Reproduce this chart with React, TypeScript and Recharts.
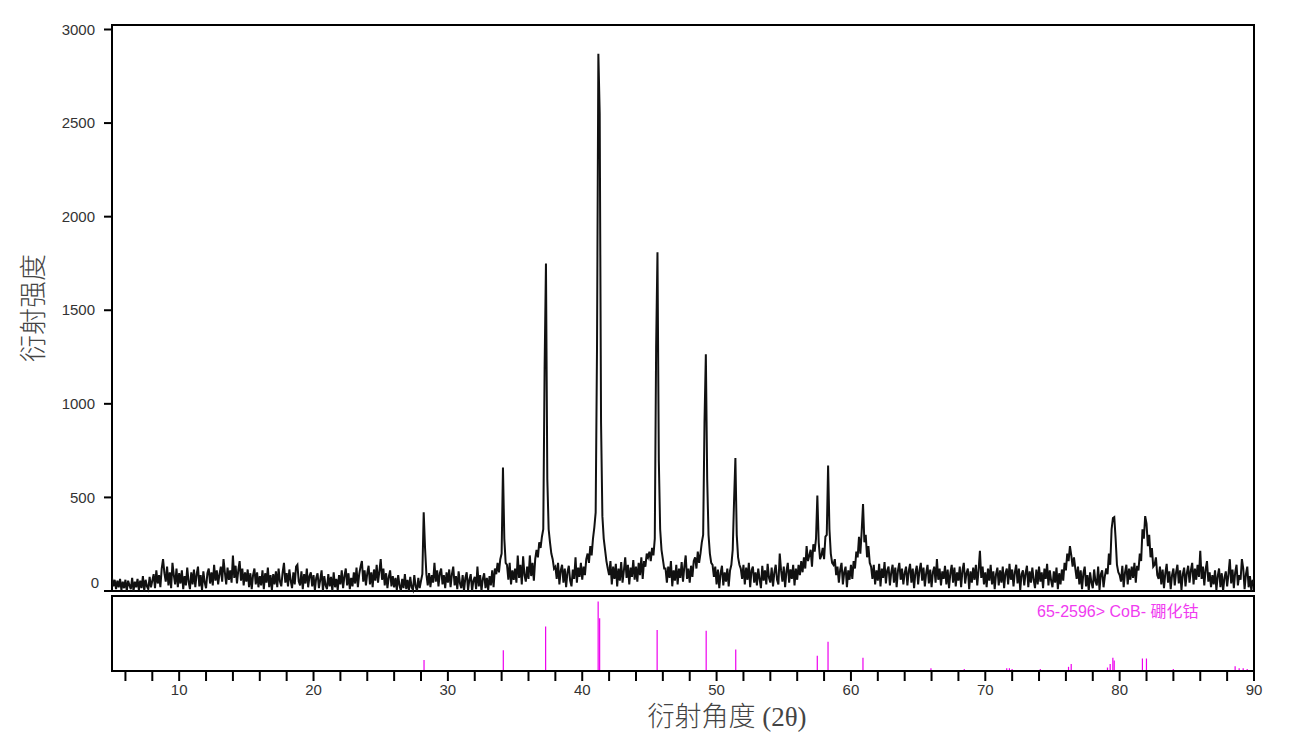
import React from 'react';
import { LineChart, Line, BarChart, Bar, XAxis, YAxis, Legend, Label, ReferenceArea } from 'recharts';

// measured pattern, counts per 0.1° step; each row is one degree (n.0 … n.9)
const scan5to14 = [
  [70, 25, 60, 10, 55, 20, 65, 5, 50, 15],
  [60, 0, 55, 30, 10, 70, 0, 50, 20, 65],
  [5, 55, 15, 80, 0, 60, 25, 10, 75, 20],
  [55, 90, 15, 110, 40, 85, 20, 120, 170, 95],
  [50, 130, 30, 100, 15, 150, 85, 35, 120, 20],
  [95, 40, 110, 10, 80, 30, 125, 50, 10, 100],
  [35, 115, 20, 90, 130, 25, 85, 5, 105, 45],
  [15, 95, 120, 40, 100, 30, 140, 55, 110, 35],
  [90, 130, 50, 170, 100, 35, 125, 60, 110, 45],
  [190, 70, 135, 40, 110, 160, 55, 120, 30, 100],
];
const scan15to24 = [
  [50, 115, 20, 95, 10, 85, 120, 35, 100, 20],
  [80, 30, 110, 10, 95, 45, 125, 20, 85, 5],
  [90, 35, 105, 20, 120, 50, 25, 100, 150, 45],
  [95, 25, 115, 55, 15, 100, 35, 130, 140, 50],
  [30, 105, 10, 90, 40, 120, 20, 80, 100, 25],
  [85, 5, 70, 95, 15, 60, 110, 0, 80, 30],
  [10, 90, 25, 75, 0, 100, 20, 65, 5, 85],
  [35, 110, 15, 80, 120, 30, 95, 10, 70, 25],
  [100, 40, 125, 20, 90, 130, 160, 50, 110, 30],
  [95, 135, 35, 100, 20, 115, 55, 140, 45, 105],
];
const scan25to34 = [
  [170, 60, 120, 30, 95, 15, 75, 110, 25, 80],
  [20, 70, 5, 85, 30, 0, 65, 15, 90, 10],
  [60, 0, 75, 20, 5, 85, 25, 0, 70, 15],
  [55, 90, 420, 230, 90, 30, 95, 20, 85, 45],
  [150, 50, 110, 25, 95, 120, 35, 85, 15, 100],
  [45, 115, 20, 90, 130, 30, 80, 10, 105, 40],
  [15, 85, 0, 70, 100, 5, 60, 90, 0, 55],
  [75, 10, 130, 25, 85, 0, 65, 95, 15, 70],
  [5, 80, 30, 110, 20, 120, 90, 150, 100, 170],
  [200, 660, 280, 150, 140, 60, 150, 35, 110, 60],
];
const scan35to44 = [
  [120, 45, 190, 70, 140, 35, 185, 85, 50, 130],
  [65, 190, 80, 150, 55, 170, 220, 180, 260, 230],
  [290, 330, 1200, 1750, 600, 330, 260, 200, 170, 120],
  [130, 65, 150, 35, 110, 140, 45, 120, 20, 100],
  [135, 55, 25, 115, 65, 180, 45, 125, 75, 150],
  [60, 130, 85, 170, 200, 150, 240, 190, 280, 340],
  [420, 1300, 2870, 2550, 900, 400, 280, 220, 160, 120],
  [85, 160, 35, 130, 65, 145, 25, 120, 55, 155],
  [45, 110, 180, 70, 140, 35, 125, 75, 165, 60],
  [130, 50, 150, 85, 180, 65, 160, 130, 200, 180],
];
const scan45to54 = [
  [210, 160, 230, 190, 280, 1300, 1810, 700, 330, 220],
  [170, 120, 120, 45, 130, 70, 160, 25, 110, 55],
  [140, 35, 120, 70, 155, 50, 130, 190, 65, 120],
  [45, 135, 75, 160, 180, 120, 210, 150, 200, 260],
  [300, 900, 1265, 600, 300, 200, 150, 140, 75, 130],
  [35, 115, 15, 95, 135, 30, 100, 50, 120, 25],
  [110, 140, 220, 480, 710, 300, 180, 140, 120, 65],
  [140, 35, 125, 60, 150, 20, 110, 130, 45, 100],
  [30, 120, 65, 15, 135, 55, 110, 35, 145, 70],
  [45, 125, 25, 100, 140, 60, 35, 200, 110, 50],
];
const scan55to64 = [
  [130, 20, 105, 150, 45, 115, 65, 140, 30, 120],
  [60, 140, 85, 160, 100, 180, 120, 240, 160, 190],
  [220, 130, 250, 210, 280, 510, 260, 170, 190, 230],
  [170, 290, 300, 670, 330, 200, 150, 140, 170, 85],
  [130, 45, 115, 150, 35, 100, 130, 20, 110, 60],
  [140, 65, 160, 120, 210, 180, 290, 200, 320, 465],
  [260, 300, 180, 240, 150, 130, 65, 140, 35, 110],
  [55, 145, 25, 120, 70, 155, 40, 110, 130, 30],
  [100, 140, 45, 125, 20, 110, 150, 60, 120, 35],
  [95, 130, 30, 105, 145, 45, 120, 15, 100, 135],
];
const scan65to74 = [
  [35, 110, 150, 55, 125, 25, 95, 140, 40, 115],
  [20, 100, 130, 45, 170, 60, 120, 30, 105, 65],
  [135, 35, 115, 15, 95, 140, 45, 125, 25, 100],
  [55, 130, 20, 110, 150, 40, 95, 120, 10, 105],
  [45, 125, 60, 140, 30, 110, 215, 70, 130, 35],
  [100, 20, 120, 55, 140, 35, 105, 10, 90, 125],
  [30, 110, 45, 130, 15, 95, 120, 35, 145, 60],
  [115, 25, 100, 140, 40, 120, 5, 90, 110, 30],
  [95, 135, 20, 105, 45, 125, 60, 15, 115, 35],
  [130, 50, 100, 15, 120, 65, 145, 30, 110, 55],
];
const scan75to84 = [
  [20, 105, 45, 125, 10, 95, 35, 115, 55, 150],
  [110, 200, 160, 240, 190, 130, 180, 120, 65, 130],
  [35, 110, 10, 95, 130, 25, 85, 0, 100, 45],
  [15, 115, 50, 30, 130, 5, 90, 110, 20, 80],
  [120, 90, 200, 140, 330, 390, 395, 280, 140, 100],
  [85, 50, 135, 20, 100, 140, 35, 120, 60, 130],
  [70, 150, 45, 135, 110, 200, 160, 330, 280, 400],
  [360, 240, 300, 180, 230, 130, 140, 180, 85, 65],
  [130, 35, 115, 15, 95, 145, 45, 105, 10, 85],
  [120, 30, 100, 140, 40, 110, 5, 90, 125, 25],
];
// last row runs to 90.0
const scan85to90 = [
  [95, 135, 45, 110, 150, 35, 120, 60, 140, 75],
  [215, 65, 130, 30, 115, 160, 50, 100, 20, 85],
  [35, 110, 5, 80, 120, 20, 95, 0, 70, 105],
  [25, 90, 170, 40, 115, 15, 100, 140, 30, 85],
  [60, 170, 120, 10, 90, 130, 20, 80, 0, 60, 40],
];

const scanBlocks = [
  { start: 5, rows: scan5to14 },
  { start: 15, rows: scan15to24 },
  { start: 25, rows: scan25to34 },
  { start: 35, rows: scan35to44 },
  { start: 45, rows: scan45to54 },
  { start: 55, rows: scan55to64 },
  { start: 65, rows: scan65to74 },
  { start: 75, rows: scan75to84 },
  { start: 85, rows: scan85to90 },
];

// PDF card 65-2596 (CoB) reference lines, relative intensity
const refAngles = [28.23, 34.13, 37.28, 41.19, 41.3, 45.58, 49.23, 51.43, 57.5, 58.3, 60.9, 65.96, 68.44, 71.6, 71.8, 72.0, 74.1, 76.2, 76.4, 79.1, 79.3, 79.5, 79.6, 81.7, 82.0, 84.0, 88.6, 88.9, 89.2, 89.5];
const refIntensity = [16, 30, 64, 100, 76, 59, 58, 31, 22, 42, 19, 4, 3, 4, 4, 3, 3, 6, 10, 5, 10, 19, 15, 18, 18, 3, 7, 4, 4, 3];

const yTicks = [0, 500, 1000, 1500, 2000, 2500, 3000];
const xTicks = [6, 8, 10, 12, 14, 16, 18, 20, 22, 24, 26, 28, 30, 32, 34, 36, 38, 40, 42, 44, 46, 48, 50, 52, 54, 56, 58, 60, 62, 64, 66, 68, 70, 72, 74, 76, 78, 80, 82, 84, 86, 88, 90];
const xTickLabels = [10, 20, 30, 40, 50, 60, 70, 80, 90];

const refName = '65-2596> CoB- 硼化钴';

const scanData = scanBlocks.flatMap(({ start, rows }) =>
  rows.flatMap((row, r) =>
    row.map((counts, j) => ({ angle: Math.round((start + r) * 10 + j) / 10, counts }))
  )
);
const refData = refAngles.map((angle, i) => ({ angle, intensity: refIntensity[i] }));

const frame = { stroke: '#000', strokeWidth: 2 };
const numFont = "'Liberation Sans', Arial, sans-serif";
const cjkFont = "'Liberation Serif', 'Noto Sans CJK SC', serif";

const YTick = (props: any) => {
  const { x, y, payload } = props;
  const isZero = payload.value === 0;
  return (
    <text
      x={isZero ? x + 4 : x}
      y={isZero ? y - 8 : y}
      dy="0.35em"
      textAnchor="end"
      fill="#333"
      fontSize={15}
      fontFamily={numFont}
    >
      {payload.value}
    </text>
  );
};

export default function App() {
  return (
    <div style={{ position: 'absolute', left: 0, top: 0, width: 1299, height: 741, background: '#fff' }}>
      <div style={{ position: 'absolute', left: 0, top: 0 }}>
        <LineChart width={1299} height={600} data={scanData} margin={{ top: 25, right: 45, bottom: 9, left: 0 }}>
          <XAxis xAxisId="b" dataKey="angle" type="number" domain={[5, 90]} allowDataOverflow tick={false} tickLine={false} height={0} axisLine={false} />
          <YAxis
            yAxisId="l"
            type="number"
            domain={[0, 3024]}
            ticks={yTicks}
            interval={0}
            width={112}
            tickSize={8}
            tickMargin={9}
            tick={<YTick />}
            tickLine={frame}
            axisLine={false}
          >
            <Label
              value="衍射强度"
              angle={-90}
              position="insideLeft"
              offset={33}
              style={{ textAnchor: 'middle', fill: '#444', fontSize: 27, fontFamily: cjkFont, fontWeight: 300 }}
            />
          </YAxis>
          <ReferenceArea xAxisId="b" yAxisId="l" x1={5} x2={90} y1={0} y2={3024} fill="none" stroke="#000" strokeWidth={2} ifOverflow="visible" />
          <Line
            xAxisId="b"
            yAxisId="l"
            type="linear"
            dataKey="counts"
            stroke="#111"
            strokeWidth={2}
            dot={false}
            isAnimationActive={false}
          />
        </LineChart>
      </div>
      <div style={{ position: 'absolute', left: 0, top: 580 }}>
        <BarChart width={1299} height={161} data={refData} margin={{ top: 16, right: 45, bottom: 0, left: 0 }}>
          <XAxis
            xAxisId="b"
            dataKey="angle"
            type="number"
            domain={[5, 90]}
            ticks={xTicks}
            interval={0}
            height={70}
            tickSize={10}
            tickMargin={3}
            tickFormatter={(v: number) => (xTickLabels.includes(v) ? String(v) : '')}
            tick={{ fill: '#333', fontSize: 15, fontFamily: numFont }}
            tickLine={frame}
            axisLine={frame}
          >
            <Label
              content={(props: any) => {
                const vb = props.viewBox;
                return (
                  <text
                    x={vb.x + vb.width / 2 + 44}
                    y={vb.y + 55}
                    textAnchor="middle"
                    fill="#444"
                    fontSize={27}
                    fontFamily={cjkFont}
                    fontWeight={300}
                  >
                    衍射角度 (2θ)
                  </text>
                );
              }}
            />
          </XAxis>
          <YAxis yAxisId="l" type="number" domain={[0, 108]} width={112} tick={false} tickLine={false} axisLine={false} />
          <ReferenceArea xAxisId="b" yAxisId="l" x1={5} x2={90} y1={0} y2={108} fill="none" stroke="#000" strokeWidth={2} ifOverflow="visible" />
          <Legend
            layout="horizontal"
            verticalAlign="middle"
            align="center"
            wrapperStyle={{ left: 1037, top: 18, width: 'auto', right: 'auto' }}
            content={() => (
              <span style={{ color: '#f03cf0', fontSize: 16, fontFamily: "'Liberation Sans', 'Noto Sans CJK SC', sans-serif", whiteSpace: 'nowrap' }}>
                {refName}
              </span>
            )}
          />
          <Bar
            xAxisId="b"
            yAxisId="l"
            dataKey="intensity"
            name={refName}
            fill="#ee00ee"
            barSize={2.5}
            isAnimationActive={false}
          />
        </BarChart>
      </div>
    </div>
  );
}
